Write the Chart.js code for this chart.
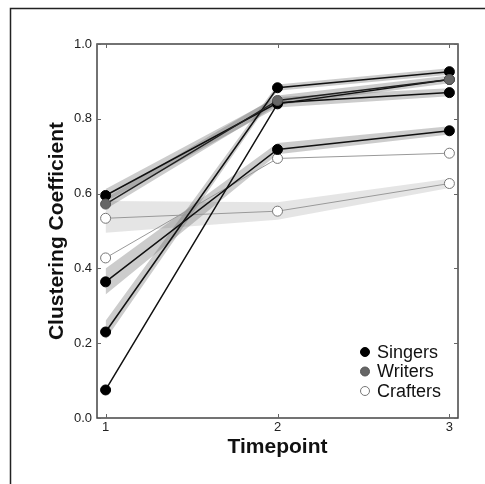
<!DOCTYPE html>
<html>
<head>
<meta charset="utf-8">
<script src="https://cdn.jsdelivr.net/npm/chart.js@4"></script>
<style>
  body { margin: 0; background: #fff; }
  canvas { display: block; }
</style>
</head>
<body>
<canvas id="grafico" width="485" height="484"></canvas>
<script>
const timepoints = [1, 2, 3];
const yTicks = [0, 0.2, 0.4, 0.6, 0.8, 1.0];
const groups = ['Singers', 'Writers', 'Crafters'];

// one line per curve, with its shaded band where the picture has one
const singers1 = [0.595, 0.843, 0.870];
const singers1Low = [0.578, 0.830, 0.860];
const singers1High = [0.612, 0.858, 0.882];
const writers1 = [0.572, 0.849, 0.905];
const writers1Low = [0.558, 0.836, 0.895];
const writers1High = [0.588, 0.862, 0.916];
const singers2 = [0.230, 0.883, 0.926];
const singers2Low = [0.210, 0.875, 0.918];
const singers2High = [0.260, 0.892, 0.935];
const singers3 = [0.075, 0.840, 0.905];
const singers4 = [0.364, 0.718, 0.768];
const singers4Low = [0.330, 0.705, 0.758];
const singers4High = [0.400, 0.735, 0.780];
const crafters1 = [0.534, 0.553, 0.627];
const crafters1Low = [0.495, 0.530, 0.615];
const crafters1High = [0.580, 0.577, 0.640];
const crafters2 = [0.428, 0.694, 0.708];

const FONT = '"Liberation Sans", Arial, sans-serif';
const pts = arr => arr.map((v, i) => ({ x: timepoints[i], y: v }));

const estilo = {
  Singers: { line: '#111', width: 1.5, fill: '#000', border: '#000' },
  Writers: { line: '#222', width: 1.5, fill: '#666', border: '#555' },
  Crafters: { line: '#999', width: 1, fill: '#fff', border: '#777' }
};

function serie(valores, grupo) {
  const s = estilo[grupo];
  return {
    data: pts(valores),
    borderColor: s.line,
    borderWidth: s.width,
    pointRadius: 5,
    pointBackgroundColor: s.fill,
    pointBorderColor: s.border,
    pointBorderWidth: 1,
    fill: false
  };
}

function banda(baixo, alto, cor) {
  return [
    { data: pts(baixo), borderWidth: 0, pointRadius: 0, fill: false, borderColor: 'transparent' },
    { data: pts(alto), borderWidth: 0, pointRadius: 0, fill: '-1', backgroundColor: cor, borderColor: 'transparent' }
  ];
}

const datasets = [
  serie(writers1, 'Writers'),
  serie(singers1, 'Singers'),
  serie(singers2, 'Singers'),
  serie(singers3, 'Singers'),
  serie(singers4, 'Singers'),
  serie(crafters2, 'Crafters'),
  serie(crafters1, 'Crafters'),
  ...banda(singers1Low, singers1High, 'rgba(110,110,110,0.35)'),
  ...banda(writers1Low, writers1High, 'rgba(110,110,110,0.35)'),
  ...banda(singers2Low, singers2High, 'rgba(110,110,110,0.35)'),
  ...banda(singers4Low, singers4High, 'rgba(110,110,110,0.35)'),
  ...banda(crafters1Low, crafters1High, 'rgba(190,190,190,0.4)')
];

// frame, inward ticks, outer border and legend
const moldura = {
  id: 'moldura',
  afterDraw(chart) {
    const { ctx, chartArea: a, scales } = chart;
    ctx.save();
    ctx.strokeStyle = '#222';
    ctx.lineWidth = 1.5;
    ctx.strokeRect(10.5, 8.5, 600, 600);
    ctx.strokeStyle = '#444';
    ctx.strokeRect(a.left, a.top, a.right - a.left, a.bottom - a.top);
    ctx.lineWidth = 1;
    ctx.strokeStyle = '#666';
    ctx.beginPath();
    yTicks.forEach(v => {
      const y = Math.round(scales.y.getPixelForValue(v)) + 0.5;
      ctx.moveTo(a.left, y); ctx.lineTo(a.left + 4, y);
      ctx.moveTo(a.right, y); ctx.lineTo(a.right - 4, y);
    });
    timepoints.forEach(v => {
      const x = Math.round(scales.x.getPixelForValue(v)) + 0.5;
      ctx.moveTo(x, a.bottom); ctx.lineTo(x, a.bottom - 4);
      ctx.moveTo(x, a.top); ctx.lineTo(x, a.top + 4);
    });
    ctx.stroke();

    ctx.font = '18px ' + FONT;
    ctx.textBaseline = 'middle';
    groups.forEach((g, i) => {
      const s = estilo[g];
      const x = a.right - 93;
      const y = a.bottom - 66 + i * 19.5;
      ctx.beginPath();
      ctx.arc(x, y, 4.5, 0, Math.PI * 2);
      ctx.fillStyle = s.fill;
      ctx.fill();
      ctx.strokeStyle = s.border;
      ctx.stroke();
      ctx.fillStyle = '#111';
      ctx.fillText(g, x + 12, y + 1);
    });
    ctx.restore();
  }
};

new Chart(document.getElementById('grafico').getContext('2d'), {
  type: 'line',
  data: { datasets },
  plugins: [moldura],
  options: {
    responsive: false,
    animation: false,
    layout: { padding: { left: 33, top: 44, right: 27, bottom: 0 } },
    plugins: {
      legend: { display: false },
      tooltip: { enabled: false },
      filler: { propagate: false, drawTime: 'beforeDatasetsDraw' }
    },
    scales: {
      x: {
        type: 'linear',
        min: 0.95,
        max: 3.05,
        afterBuildTicks: s => { s.ticks = timepoints.map(v => ({ value: v })); },
        afterFit: s => { s.height = 66; },
        grid: { display: false, drawTicks: false },
        border: { display: false },
        ticks: { color: '#222', font: { family: FONT, size: 13 }, padding: 2, callback: v => v },
        title: { display: true, text: 'Timepoint', color: '#111', font: { family: FONT, size: 21, weight: 'bold' }, padding: { top: 0, bottom: 24 } }
      },
      y: {
        min: 0,
        max: 1,
        afterBuildTicks: s => { s.ticks = yTicks.map(v => ({ value: v })); },
        afterFit: s => { s.width = 64; },
        grid: { display: false, drawTicks: false },
        border: { display: false },
        ticks: { color: '#222', font: { family: FONT, size: 13 }, padding: 5, callback: v => v.toFixed(1) },
        title: { display: true, text: 'Clustering Coefficient', color: '#111', font: { family: FONT, size: 21, weight: 'bold' }, padding: { top: 12, bottom: 0 } }
      }
    }
  }
});
</script>
</body>
</html>
